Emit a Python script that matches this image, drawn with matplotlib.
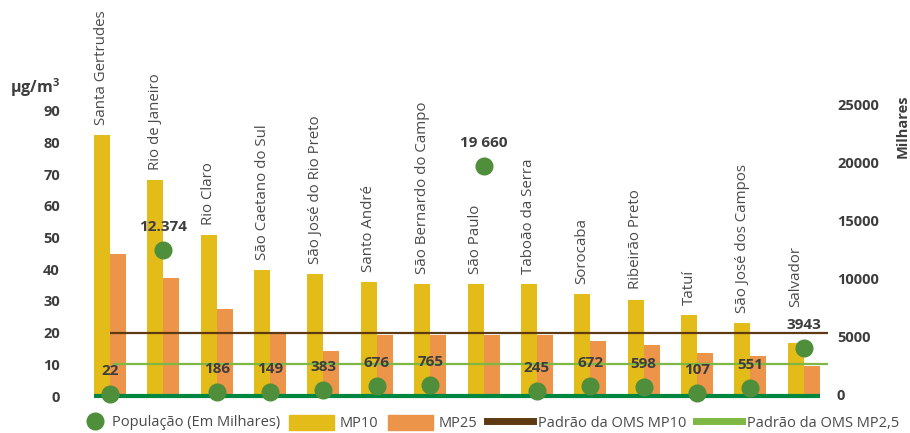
import matplotlib
matplotlib.use("Agg")
import matplotlib.pyplot as plt
from matplotlib.lines import Line2D
from matplotlib.patches import Patch

plt.rcParams["font.family"] = ["Open Sans", "DejaVu Sans"]
plt.rcParams["mathtext.fontset"] = "custom"
plt.rcParams["mathtext.bf"] = "Open Sans:bold"

cities = ["Santa Gertrudes", "Rio de Janeiro", "Rio Claro", "São Caetano do Sul",
          "São José do Rio Preto", "Santo André", "São Bernardo do Campo", "São Paulo",
          "Taboão da Serra", "Sorocaba", "Ribeirão Preto", "Tatuí",
          "São José dos Campos", "Salvador"]
mp10 = [82.3, 68.1, 50.8, 39.7, 38.4, 35.9, 35.3, 35.3, 35.3, 32.2, 30.4, 25.5, 22.9, 16.7]
mp25 = [44.7, 37.2, 27.4, 19.8, 14.2, 19.2, 19.2, 19.2, 19.2, 17.4, 16.1, 13.7, 12.5, 9.4]
populacao = [22, 12374, 186, 149, 383, 676, 765, 19660, 245, 672, 598, 107, 551, 3943]
pop_labels = ["22", "12.374", "186", "149", "383", "676", "765", "19 660",
              "245", "672", "598", "107", "551", "3943"]
oms_mp10 = 20
oms_mp25 = 10

# colours
c_mp10 = "#E3BC1A"
c_mp25 = "#EC9449"
c_pop = "#4F8E3B"
c_oms10 = "#5E3A12"
c_oms25 = "#7CB843"
c_base = "#00873F"
c_tick = "#3d3d3d"
c_city = "#4a4a4a"

# extra lift (px) for city labels that must clear a population number
label_lift = {"Salvador": 26}

fig = plt.figure(figsize=(9.1, 4.33), dpi=100)
ax = fig.add_axes([68 / 910, 37 / 433, (830 - 68) / 910, 366 / 433])
ax2 = ax.twinx()

x = list(range(len(cities)))
w = 0.3
ax.bar([i - w / 2 for i in x], mp10, width=w, color=c_mp10, zorder=2)
ax.bar([i + w / 2 for i in x], mp25, width=w, color=c_mp25, zorder=2)

ax.hlines(oms_mp10, 0, 13.45, color=c_oms10, lw=1.6, zorder=3)
ax.hlines(oms_mp25, 0.06, 13.45, color=c_oms25, lw=1.6, zorder=3)
ax.plot([-w, len(cities) - 1 + w], [0, 0], color=c_base, lw=3, zorder=3,
        solid_capstyle="butt", clip_on=False)

ax.set_xlim((68 - 110) / 53.36, (830 - 110) / 53.36)
ax.set_ylim(0, 366 / 3.17)
# population axis: zero sits a little above the bar baseline, as in the source
ax2.set_ylim(-2 / 11.6 * 1000, 364 / 11.6 * 1000)

for i, city in enumerate(cities):
    lift = 7.5 + label_lift.get(city, 0) * 0.72
    ax.annotate(city, (i - w / 2, mp10[i]), xytext=(0, lift), textcoords="offset points",
                rotation=90, ha="center", va="bottom", fontsize=10.8, color=c_city)

ax2.plot(x, populacao, "o", color=c_pop, markersize=12, zorder=5, clip_on=False)
for i, lab in enumerate(pop_labels):
    ax2.annotate(lab, (i, populacao[i]), xytext=(0, 11.5), textcoords="offset points",
                 ha="center", va="bottom", fontsize=11, fontweight="bold", color=c_tick)

ax.set_yticks(range(0, 100, 10))
ax2.set_yticks(range(0, 30000, 5000))
ax.set_xticks([])
for a in (ax, ax2):
    for s in a.spines.values():
        s.set_visible(False)
    a.tick_params(length=0, labelsize=10.5, labelcolor=c_tick)
    for t in a.get_yticklabels():
        t.set_fontweight("bold")
ax.tick_params(axis="y", pad=5.8)
ax2.tick_params(axis="y", pad=5)
ax2.set_zorder(ax.get_zorder() + 1)
ax2.patch.set_visible(False)

fig.text(60 / 910, 1 - 88 / 433, r"µg/m$^{\mathbf{3}}$", ha="right", va="center",
         fontsize=11.5, fontweight="bold", color=c_tick)
fig.text(903 / 910, 1 - 126 / 433, "Milhares", rotation=90, ha="center", va="center",
         fontsize=10.5, fontweight="bold", color=c_tick)

leg_y = 1 - 423 / 433
leg1 = fig.legend([Line2D([], [], marker="o", ls="none", color=c_pop, markersize=12)],
                  ["População (Em Milhares)"], loc="center left",
                  bbox_to_anchor=(86 / 910, leg_y), frameon=False, fontsize=10.5,
                  handlelength=1.2, handletextpad=0.55, borderpad=0, borderaxespad=0)
handles = [
    Patch(color=c_mp10),
    Patch(color=c_mp25),
    Line2D([], [], color=c_oms10, lw=5),
    Line2D([], [], color=c_oms25, lw=5),
]
labels = ["MP10", "MP25", "Padrão da OMS MP10", "Padrão da OMS MP2,5"]
leg2 = fig.legend(handles, labels, loc="center left", bbox_to_anchor=(289 / 910, leg_y),
                  ncol=4, frameon=False, fontsize=10.5, handlelength=3.1, handleheight=1.2,
                  handletextpad=0.35, columnspacing=0.7, borderpad=0, borderaxespad=0)
for lg in (leg1, leg2):
    for t in lg.get_texts():
        t.set_color(c_city)

fig.savefig("out.png", dpi=100)
